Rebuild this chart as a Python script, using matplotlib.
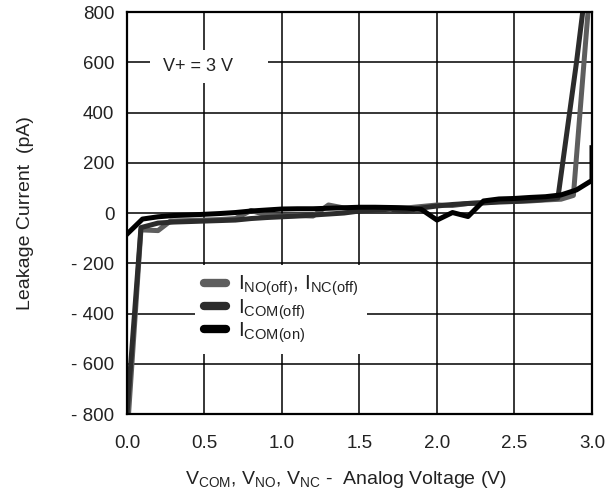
import numpy as np
import matplotlib
matplotlib.use('Agg')
import matplotlib.pyplot as plt
from matplotlib.patches import Rectangle
from matplotlib.ticker import FuncFormatter

plt.rcParams['font.family'] = ['Liberation Sans', 'DejaVu Sans']
plt.rcParams['mathtext.default'] = 'regular'

# I_NO(off), I_NC(off)
v_no = [0.01, 0.09, 0.2, 0.28, 0.4, 0.5, 0.6, 0.7, 0.8, 0.9, 1.0, 1.1, 1.2, 1.3, 1.4, 1.5,
        1.6, 1.7, 1.8, 1.9, 2.0, 2.1, 2.2, 2.3, 2.4, 2.5, 2.6, 2.7, 2.8, 2.88, 3.0]
i_no = [-800, -67, -70, -32, -30, -28, -26, -22, 10, -8, -12, -10, -12, 32, 20, 12,
        18, 22, 20, 26, 32, 30, 38, 42, 45, 46, 48, 52, 55, 70, 1000]
# I_COM(off)
v_coff = [0.0, 0.09, 0.2, 0.3, 0.4, 0.5, 0.6, 0.7, 0.8, 0.9, 1.0, 1.1, 1.2, 1.3, 1.4, 1.5,
          1.6, 1.7, 1.8, 1.9, 2.0, 2.1, 2.2, 2.3, 2.4, 2.5, 2.6, 2.7, 2.78, 2.9, 2.96]
i_coff = [-800, -58, -40, -36, -34, -32, -30, -28, -22, -18, -15, -12, -8, -4, 0, 8,
          12, 15, 8, 20, 28, 34, 38, 40, 44, 46, 50, 54, 60, 600, 900]
# I_COM(on)
v_con = [0.0, 0.1, 0.2, 0.3, 0.4, 0.5, 0.6, 0.7, 0.8, 0.9, 1.0, 1.1, 1.2, 1.3, 1.4, 1.5,
         1.6, 1.7, 1.8, 1.9, 2.0, 2.1, 2.2, 2.3, 2.4, 2.5, 2.6, 2.7, 2.8, 2.9, 3.0, 3.0]
i_con = [-84, -24, -15, -10, -8, -5, -2, 2, 8, 12, 16, 17, 17, 19, 21, 23,
         23, 22, 20, 14, -28, 2, -14, 48, 56, 58, 62, 65, 72, 92, 130, 260]

labels = [r'$I_{NO(off)}$, $I_{NC(off)}$', r'$I_{COM(off)}$', r'$I_{COM(on)}$']
colors = ['#5e5e5e', '#2c2c2c', '#000000']

fig = plt.figure(figsize=(6.15, 4.93), dpi=100)
ax = fig.add_axes([0.2065, 0.1602, 0.7561, 0.8154])

ax.plot(v_no, i_no, color=colors[0], lw=3.6, label=labels[0], solid_joinstyle='round')
ax.plot(v_coff, i_coff, color=colors[1], lw=3.6, label=labels[1], solid_joinstyle='round')
ax.plot(v_con, i_con, color=colors[2], lw=3.6, label=labels[2], solid_joinstyle='round')

ax.set_xlim(0, 3.0)
ax.set_ylim(-800, 800)
ax.set_xticks(np.arange(0, 3.01, 0.5))
ax.set_yticks(np.arange(-800, 801, 200))
ax.xaxis.set_major_formatter(FuncFormatter(lambda v, p: '%.1f' % v))
ax.yaxis.set_major_formatter(FuncFormatter(lambda v, p: '- %d' % abs(v) if v < 0 else '%d' % v))
ax.tick_params(length=0, labelsize=13.5, labelcolor='#222222')
ax.tick_params(axis='y', pad=9)
ax.tick_params(axis='x', pad=15)
ax.set_axisbelow(True)
ax.grid(True, color='black', lw=1.1)
for s in ax.spines.values():
    s.set_linewidth(1.6)

# white patch behind the annotation
ax.add_patch(Rectangle((0.049, 0.823), 0.254, 0.082, transform=ax.transAxes,
                       facecolor='white', edgecolor='none', zorder=1))
ax.text(0.152, 0.864, 'V+ = 3 V', transform=ax.transAxes, fontsize=13,
        ha='center', va='center', color='#222222', zorder=3)

leg = ax.legend(loc='upper left', bbox_to_anchor=(0.146, 0.371), fontsize=15,
                frameon=True, fancybox=False, borderaxespad=0, borderpad=0.42,
                handlelength=1.05, handletextpad=0.62, labelspacing=-0.05)
leg.get_frame().set_facecolor('white')
leg.get_frame().set_edgecolor('none')
leg.get_frame().set_alpha(1)
for h in leg.get_lines():
    h.set_linewidth(6)
    h.set_solid_capstyle('round')
for t in leg.get_texts():
    t.set_color('#222222')

ax.set_xlabel(r'$V_{COM}$, $V_{NO}$, $V_{NC}$ -  Analog Voltage (V)', fontsize=14,
              color='#222222', labelpad=12, x=0.47)
ax.set_ylabel('Leakage Current  (pA)', fontsize=14, color='#222222', labelpad=27)

fig.savefig('out.png', dpi=100)
